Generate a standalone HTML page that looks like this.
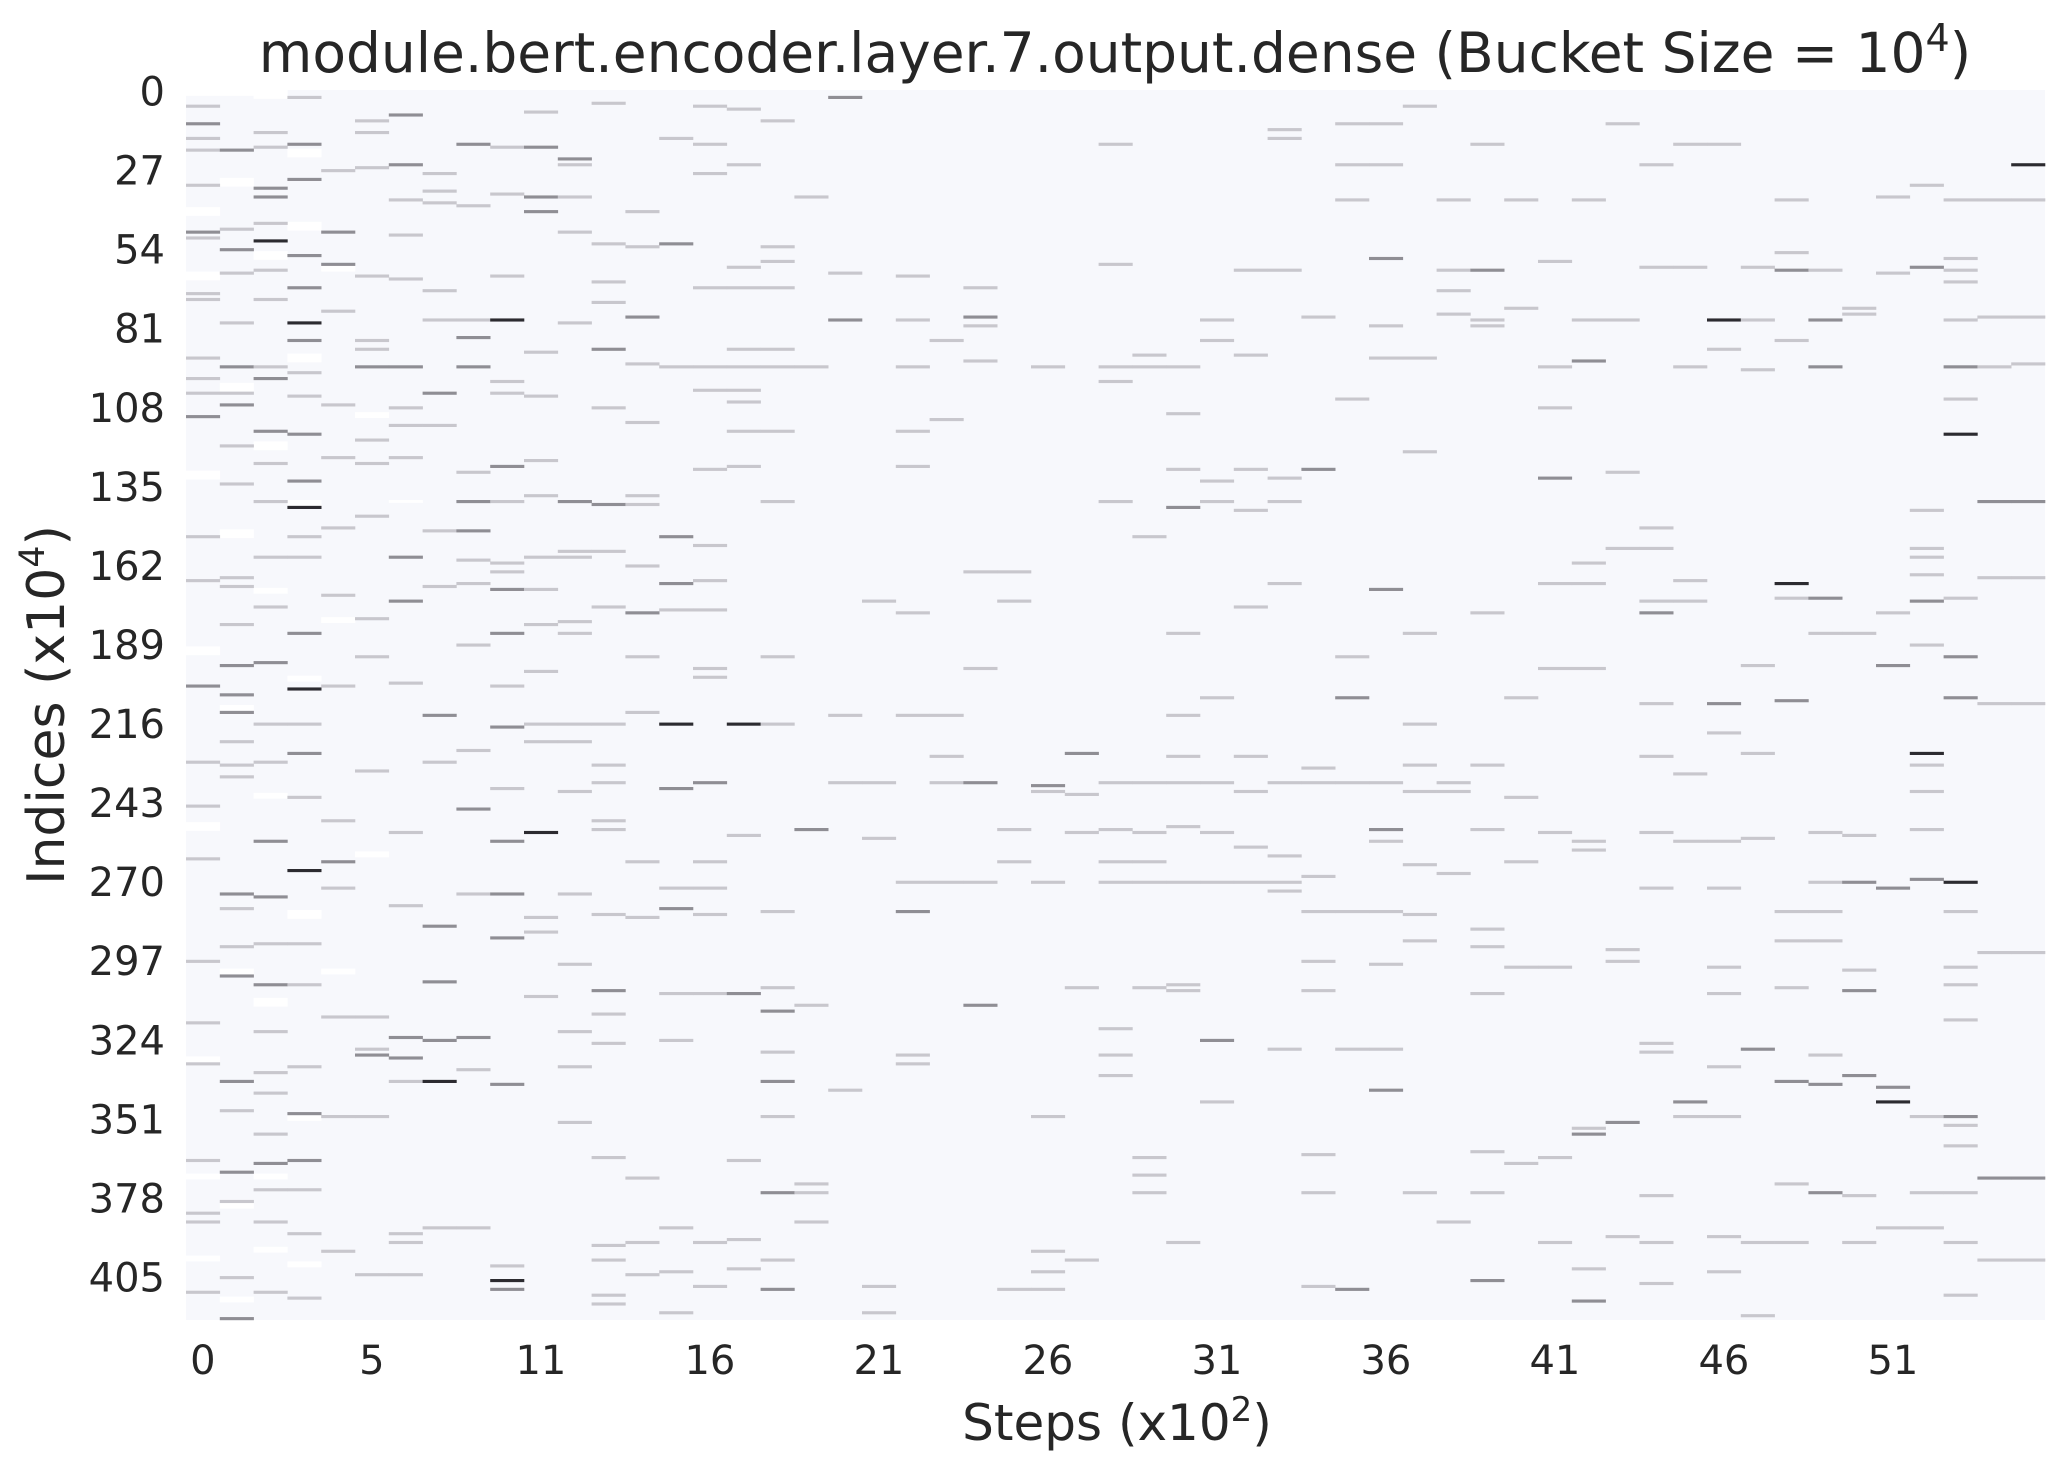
<!DOCTYPE html>
<html><head><meta charset="utf-8"><title>Heatmap</title>
<style>
html,body{margin:0;padding:0;background:#fff;}
svg{display:block;font-family:"DejaVu Sans","Liberation Sans",sans-serif;}
</style></head>
<body>
<svg id="chart" width="2065" height="1472" viewBox="0 0 2065 1472" xmlns="http://www.w3.org/2000/svg">
  <rect width="2065" height="1472" fill="#ffffff"/>
  <text x="1115" y="72" text-anchor="middle" font-size="55" fill="#262626">module.bert.encoder.layer.7.output.dense (Bucket Size = 10<tspan dy="-21" font-size="38">4</tspan><tspan dy="21">)</tspan></text>
  <g id="plot"></g>
  <g id="xticks"></g>
  <g id="yticks"></g>
  <text x="1117" y="1440" text-anchor="middle" font-size="50" fill="#262626">Steps (x10<tspan dy="-19" font-size="34">2</tspan><tspan dy="19">)</tspan></text>
  <text transform="translate(64,705) rotate(-90)" text-anchor="middle" font-size="52" fill="#262626">Indices (x10<tspan dy="-20" font-size="35">4</tspan><tspan dy="20">)</tspan></text>
</svg>
<script>
const nCols = 55;
const nRows = 420;
const xTickCols = [0,5,10,15,20,25,30,35,40,45,50];
const xTickLabels = ["0","5","11","16","21","26","31","36","41","46","51"];
const yTickRows = [0,27,54,81,108,135,162,189,216,243,270,297,324,351,378,405];
const yTickLabels = ["0","27","54","81","108","135","162","189","216","243","270","297","324","351","378","405"];
// per-column non-background cells: row indices and intensity level (1 light, 2 mid, 3 dark)
const markRows = [
[5,11,16,20,32,48,50,69,71,91,98,103,111,152,167,203,229,244,262,297,318,332,365,383,386,410],
[20,47,54,62,79,94,103,107,121,134,166,169,182,196,206,212,222,230,234,274,279,292,302,338,348,369,379,405,419],
[14,19,33,36,45,51,61,71,94,98,116,127,140,159,176,195,216,229,256,275,291,305,321,335,342,356,366,375,386,410],
[2,18,30,56,67,79,85,96,104,117,133,142,152,159,185,204,216,226,241,266,291,305,333,349,365,375,390,412],
[27,48,59,75,107,125,149,172,203,249,263,272,316,350,396],
[10,14,26,63,85,88,94,119,127,145,180,193,232,316,327,329,350,404],
[8,25,37,49,64,94,108,114,125,159,174,202,253,278,323,330,338,390,393,404],
[28,34,38,68,78,103,114,150,169,213,229,285,304,324,338,388],
[18,39,78,84,94,130,140,150,160,168,189,225,245,274,323,334,388],
[19,35,63,78,99,103,128,140,161,164,170,185,203,217,238,256,274,289,339,401,406,409],
[7,19,36,41,89,104,126,138,159,170,182,198,216,222,253,282,287,309],
[23,25,36,48,79,140,157,159,181,185,216,222,239,274,298,321,333,352],
[4,52,65,72,88,108,141,157,176,216,230,236,249,252,281,307,315,325,364,394,399,411,414],
[41,53,77,93,113,138,141,162,178,193,212,263,282,371,393,404],
[16,52,94,152,168,177,216,238,272,279,308,324,388,403,417],
[5,18,28,67,94,102,129,155,167,177,197,200,236,263,272,281,308,393,408],
[6,25,60,67,88,94,102,106,116,128,216,254,308,365,392,402],
[10,53,58,67,88,94,116,140,193,216,280,306,314,328,338,350,376,399,409],
[36,94,252,312,373,376,386],
[2,62,78,213,236,341],
[174,236,255,408,417],
[63,78,94,116,128,178,213,270,280,329,332],
[85,112,213,227,236,270],
[67,77,80,92,164,197,236,270,312],
[164,174,252,263,409],
[94,237,239,270,350,396,403,409],
[226,240,253,306,399],
[18,59,94,99,140,236,252,263,270,320,329,336],
[90,94,152,236,253,263,270,306,364,370,376],
[94,110,129,142,185,213,227,236,251,270,305,307,393],
[78,85,133,140,207,236,253,270,324,345],
[61,90,129,143,176,227,239,258,270],
[13,16,61,132,140,168,236,261,270,273,327],
[77,129,231,236,268,280,297,307,363,376,408],
[11,25,37,105,193,207,236,280,327,409],
[11,25,57,80,91,170,236,252,256,280,298,327,341],
[5,91,123,185,216,230,239,264,281,290,376],
[37,61,68,76,236,239,267,386],
[18,61,78,80,178,230,252,286,292,308,362,376,406],
[37,74,207,241,263,299,366],
[58,94,108,132,168,197,253,299,364,393],
[37,78,92,161,168,197,256,259,354,356,402,413],
[11,78,130,156,293,297,352,391],
[25,60,149,156,174,178,209,227,253,272,325,328,377,393,407],
[18,60,94,167,174,233,256,345,350],
[18,78,88,209,219,256,272,299,308,333,350,391,403],
[60,78,95,196,226,255,327,393,418],
[37,55,61,85,168,173,208,280,290,306,338,373,393],
[61,78,94,173,185,253,270,280,290,329,339,376],
[74,76,185,254,270,300,307,336,377,393],
[36,62,178,196,272,340,345,388],
[32,60,143,156,159,165,174,189,226,230,239,252,269,350,376,388],
[37,57,61,65,78,94,105,117,173,193,207,270,280,299,305,317,350,353,360,376,393,411],
[37,77,94,140,166,209,294,371,399],
[25,37,77,93,140,166,209,294,371,399]
];
const markLevels = [
[1,2,1,1,1,2,1,1,1,1,1,1,2,1,1,2,1,1,1,1,1,1,1,1,1,1],
[2,1,2,1,1,2,1,2,1,1,1,1,1,2,2,2,1,1,1,2,1,1,2,2,1,2,1,1,2],
[1,1,2,2,1,3,1,1,1,2,2,1,1,1,1,2,1,1,2,2,1,2,1,1,1,1,2,1,1,1],
[1,2,2,2,2,3,2,1,1,2,2,3,1,1,2,3,1,2,1,3,1,1,1,2,2,1,1,1],
[1,2,2,1,1,1,1,1,1,1,2,1,1,1,1],
[1,1,1,1,1,1,2,1,1,1,1,1,1,1,1,2,1,1],
[2,2,1,1,1,2,1,1,1,2,2,1,1,1,2,2,1,1,1,1],
[1,1,1,1,1,2,1,1,1,2,1,2,2,2,3,1],
[2,1,1,2,2,1,2,2,1,1,1,1,2,1,2,1,1],
[1,1,1,3,1,1,2,1,1,1,2,2,1,2,1,2,2,2,2,1,3,2],
[1,2,2,2,1,1,1,1,1,1,1,1,1,1,3,1,1,1],
[2,1,1,1,1,2,1,1,1,1,1,1,1,1,1,1,1,1],
[1,1,1,1,2,1,2,1,1,1,1,1,1,1,1,2,1,1,1,1,1,1,1],
[1,1,2,1,1,1,1,1,2,1,1,1,1,1,1,1],
[1,2,1,2,2,1,3,2,1,2,1,1,1,1,1],
[1,1,1,1,1,1,1,1,1,1,1,1,2,1,1,1,1,1,1],
[1,1,1,1,1,1,1,1,1,1,3,1,2,1,1,1],
[1,1,1,1,1,1,1,1,1,1,1,1,2,1,2,1,2,1,2],
[1,1,2,1,1,1,1],
[2,1,2,1,1,1],
[1,1,1,1,1],
[1,1,1,1,1,1,1,1,2,1,1],
[1,1,1,1,1,1],
[1,2,1,1,1,1,2,1,2],
[1,1,1,1,1],
[1,2,1,1,1,1,1,1],
[2,1,1,1,1],
[1,1,1,1,1,1,1,1,1,1,1,1],
[1,1,1,1,1,1,1,1,1,1,1],
[1,1,1,2,1,1,1,1,1,1,1,1,1],
[1,1,1,1,1,1,1,1,2,1],
[1,1,1,1,1,1,1,1,1],
[1,1,1,1,1,1,1,1,1,1,1],
[1,2,1,1,1,1,1,1,1,1,1],
[1,1,1,1,1,2,1,1,1,2],
[1,1,2,1,1,2,1,2,1,1,1,1,2],
[1,1,1,1,1,1,1,1,1,1,1],
[1,1,1,1,1,1,1,1],
[1,2,1,1,1,1,1,1,1,1,1,1,2],
[1,1,1,1,1,1,1],
[1,1,1,2,1,1,1,1,1,1],
[1,1,2,1,1,1,1,1,1,2,1,2],
[1,1,1,1,1,1,2,1],
[1,1,1,1,1,2,1,1,1,1,1,1,1,1,1],
[1,1,1,1,1,1,1,2,1],
[1,3,1,2,1,1,1,1,1,1,1,1,1],
[1,1,1,1,1,1,2,1,1],
[1,1,2,1,3,1,2,1,1,1,2,1,1],
[1,2,2,2,1,1,1,1,1,1,2,2],
[1,1,1,1,2,1,2,2,1,1],
[1,1,1,2,2,2,3,1],
[1,2,1,1,1,1,2,1,3,1,1,1,2,1,1,1],
[1,1,1,1,1,2,1,3,1,2,2,3,1,1,1,1,2,1,1,1,1,1],
[1,1,1,2,1,1,1,2,1],
[3,1,1,1,2,1,1,1,2,1]
];
// near-zero (white) rows in the early columns: column, start row, end row
const whiteCol   = [0,0,0,0,0,0,0,0,0,1,1,1,1,1,1,1,1,2,2,2,2,2,2,2,2,3,3,3,3,3,3,3,3,4,4,4,5,5,6,6];
const whiteStart = [0,40,62,130,190,250,330,370,398,0,30,100,150,210,300,380,412,0,55,120,170,240,310,370,395,20,45,90,140,200,280,350,400,60,180,300,110,260,140,330];
const whiteEnd   = [1,42,64,132,192,252,332,371,399,1,32,102,152,211,301,381,413,2,57,122,171,241,312,371,396,22,47,92,141,201,282,351,401,61,181,301,111,261,140,330];

const NS = "http://www.w3.org/2000/svg";
const X0 = 186, X1 = 2045, Y0 = 90, Y1 = 1320;
const colW = (X1 - X0) / nCols, rowH = (Y1 - Y0) / nRows;
function xOf(c){ return X0 + c * colW; }
function yOf(r){ return Y0 + r * rowH; }
const levelColor = ["#ffffff","#c8c7cd","#8f8e94","#2c2b30"];
const plot = document.getElementById('plot');
function mk(tag, attrs){ const e = document.createElementNS(NS, tag); for (const k in attrs) e.setAttribute(k, attrs[k]); return e; }

const bg = mk('rect', {x:X0, y:Y0, width:X1-X0, height:Y1-Y0, fill:'#f7f8fc'});


plot.appendChild(bg);

for (let i = 0; i < whiteCol.length; i++) {
  const w = mk('rect', {x:xOf(whiteCol[i]).toFixed(2), y:yOf(whiteStart[i]).toFixed(2), width:(colW+0.3).toFixed(2), height:((whiteEnd[i]-whiteStart[i]+1)*rowH).toFixed(2), fill:'#ffffff'});
  
  
  plot.appendChild(w);
}
for (let c = 0; c < markRows.length; c++) {
  for (let j = 0; j < markRows[c].length; j++) {
    const cell = mk('rect', {x:xOf(c).toFixed(2), y:yOf(markRows[c][j]).toFixed(2), width:(colW+0.3).toFixed(2), height:(rowH+0.2).toFixed(2), fill:levelColor[markLevels[c][j]]});
    
    
    plot.appendChild(cell);
  }
}
const xt = document.getElementById('xticks');
for (let i = 0; i < xTickCols.length; i++) {
  const t = mk('text', {x:(xOf(xTickCols[i]) + colW/2).toFixed(1), y:1374, 'text-anchor':'middle', 'font-size':40, fill:'#262626'});
  t.textContent = xTickLabels[i];
  
  
  xt.appendChild(t);
}
const yt = document.getElementById('yticks');
for (let i = 0; i < yTickRows.length; i++) {
  const t = mk('text', {x:165, y:(yOf(yTickRows[i]) + rowH/2 + 14).toFixed(1), 'text-anchor':'end', 'font-size':40, fill:'#262626'});
  t.textContent = yTickLabels[i];
  
  
  yt.appendChild(t);
}
</script>
</body></html>
